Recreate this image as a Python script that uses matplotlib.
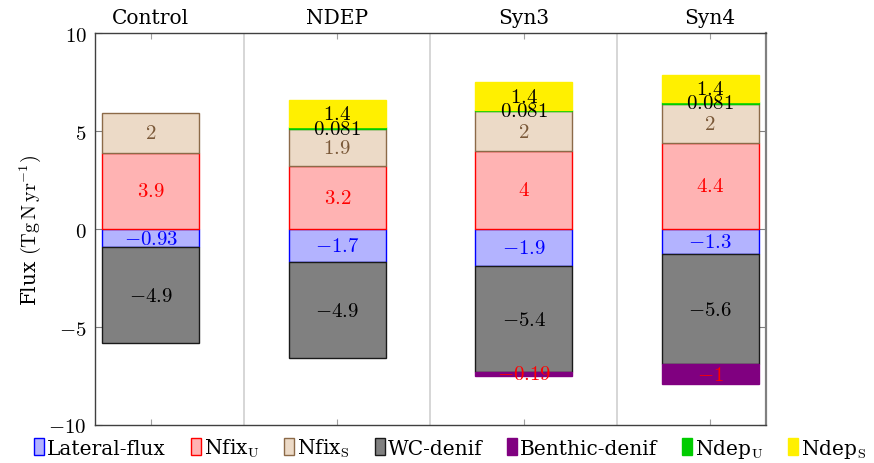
import numpy as np
import matplotlib
matplotlib.use("Agg")
import matplotlib.pyplot as plt
from matplotlib.patches import Patch

plt.rcParams["font.family"] = ["DejaVu Serif"]
plt.rcParams["mathtext.fontset"] = "cm"

# Data
categories = ["Control", "NDEP", "Syn3", "Syn4"]
lateral_flux = [-0.93, -1.7, -1.9, -1.3]
nfix_u = [3.9, 3.2, 4.0, 4.4]
nfix_s = [2.0, 1.9, 2.0, 2.0]
wc_denif = [-4.9, -4.9, -5.4, -5.6]
benthic_denif = [0.0, 0.0, -0.19, -1.0]
ndep_u = [0.0, 0.081, 0.081, 0.081]
ndep_s = [0.0, 1.4, 1.4, 1.4]

# name, values, face, edge, label colour
series = [
    ("Lateral-flux", lateral_flux, "#b3b3ff", "#0000ff", "#0000ff"),
    ("Nfix$_\\mathrm{U}$", nfix_u, "#ffb3b3", "#ff0000", "#ff0000"),
    ("Nfix$_\\mathrm{S}$", nfix_s, "#ecdac7", "#8c6a48", "#7a5838"),
    ("WC-denif", wc_denif, "#808080", "#1a1a1a", "black"),
    ("Benthic-denif", benthic_denif, "#800080", "#800080", "#ff0000"),
    ("Ndep$_\\mathrm{U}$", ndep_u, "#00cc00", "#00cc00", "black"),
    ("Ndep$_\\mathrm{S}$", ndep_s, "#fff000", "#fff000", "black"),
]

fs = 15     # numbers (CM)
tfs = 14.5  # words
fig = plt.figure(figsize=(8.74, 4.64), dpi=100)
ax = fig.add_axes([0.1087, 0.0819, 0.7677, 0.8448])

x = np.arange(len(categories))
width = 0.52
pos_base = np.zeros(len(categories))
neg_base = np.zeros(len(categories))

for name, vals, face, edge, tcol in series:
    vals = np.array(vals)
    base = np.where(vals >= 0, pos_base, neg_base)
    keep = vals != 0
    ax.bar(x[keep], vals[keep], width, bottom=base[keep], color=face,
           edgecolor=edge, linewidth=1.0, zorder=3)
    for xi, v, b in zip(x[keep], vals[keep], base[keep]):
        ax.text(xi, b + v / 2, f"${v:g}$", ha="center", va="center",
                color=tcol, fontsize=fs, zorder=4)
    pos_base = np.where(vals >= 0, pos_base + vals, pos_base)
    neg_base = np.where(vals < 0, neg_base + vals, neg_base)

# separators between groups
for s in [0.5, 1.5, 2.5]:
    ax.axvline(s, color="#d3d3d3", linewidth=1.3, zorder=1)

ax.set_xlim(-0.3, 3.3)
ax.set_ylim(-10, 10)
ax.set_yticks([-10, -5, 0, 5, 10])
ax.set_yticklabels([f"${t}$" for t in [-10, -5, 0, 5, 10]], fontsize=fs)
ax.set_xticks(x)
ax.set_xticklabels(categories, fontsize=tfs)
ax.xaxis.tick_top()
ax.tick_params(axis="x", direction="in", length=4, color="#a0a0a0",
               top=True, bottom=True, labeltop=True, labelbottom=False, pad=4)
ax.tick_params(axis="y", direction="in", length=5, color="#808080",
               left=True, right=True, pad=6)
for sp in ax.spines.values():
    sp.set_color("#404040")
    sp.set_linewidth(1.0)
ax.spines["right"].set_color("#808080")
ax.spines["right"].set_linewidth(1.6)

ax.set_ylabel("Flux $(\\mathrm{Tg\\,N\\,yr^{-1}})$", fontsize=tfs, labelpad=4)

handles = [Patch(facecolor=face, edgecolor=edge, label=name)
           for name, vals, face, edge, tcol in series]
fig.legend(handles=handles, loc="center", bbox_to_anchor=(0.515, 0.032),
           ncol=7, frameon=False, fontsize=tfs, handlelength=0.5,
           handleheight=0.9, handletextpad=0.15, columnspacing=1.22,
           borderaxespad=0, borderpad=0)

fig.savefig("out.png", dpi=100)
